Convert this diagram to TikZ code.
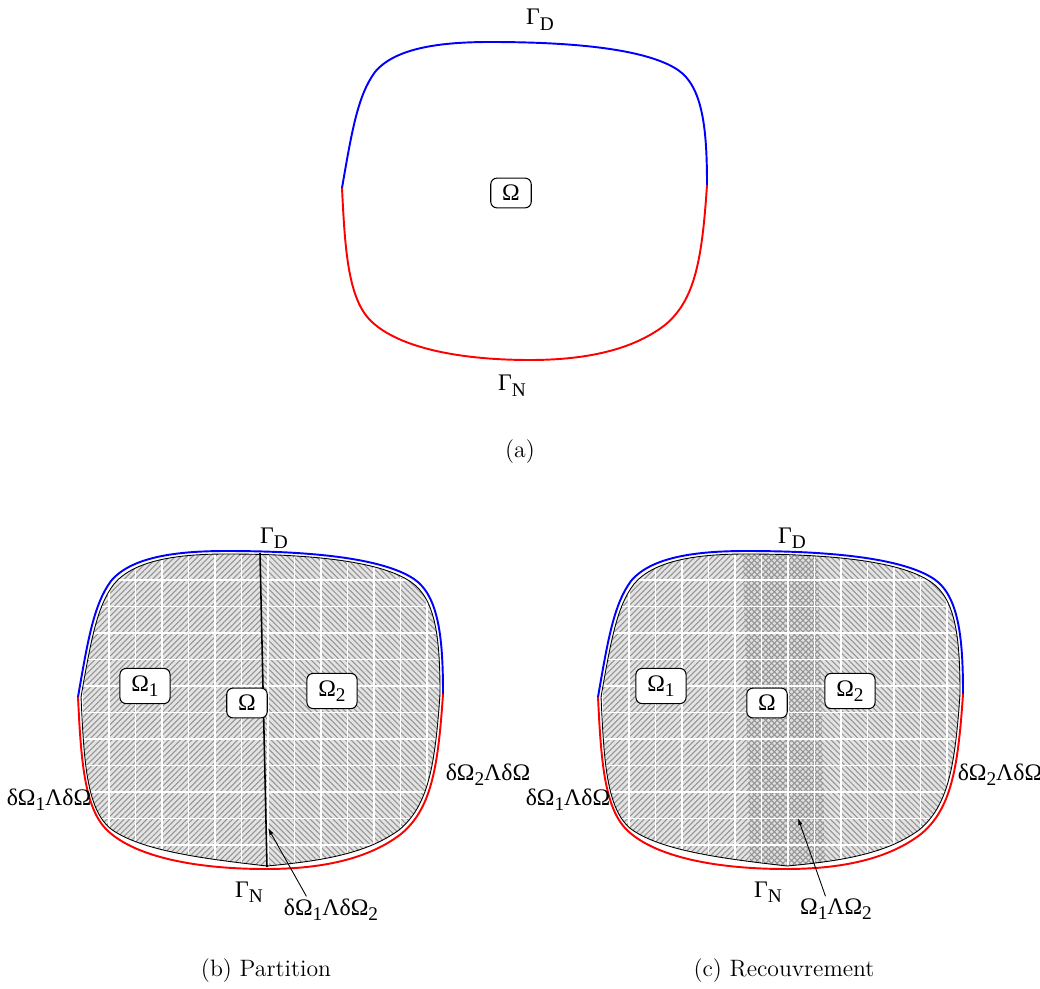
\documentclass[tikz,border=0pt]{standalone}
\usepackage{fontspec}
\newfontfamily\symbfont{Liberation Serif}
\usetikzlibrary{patterns.meta,arrows.meta}

% boundary pieces of the domain (local pixel coordinates)
\newcommand{\outertop}{.. controls (352,130) and (358,95) .. (375,72) .. controls (395,48) and (440,42) .. (490,42) .. controls (580,42) and (648,50) .. (678,70) .. controls (703,87) and (707,130) .. (707,185)}
\newcommand{\outerbot}{.. controls (702,260) and (695,300) .. (665,325) .. controls (630,352) and (580,360) .. (530,360) .. controls (460,360) and (400,348) .. (372,322) .. controls (348,300) and (345,250) .. (342,188)}
\newcommand{\innershape}{(345,188) .. controls (355,131) and (361,97) .. (378,75) .. controls (398,51) and (442,45) .. (490,45) .. controls (580,45) and (646,53) .. (675,73) .. controls (700,90) and (704,130) .. (704,185) .. controls (699,258) and (692,297) .. (663,321) .. controls (630,345) and (585,352) .. (531,357) .. controls (470,350) and (405,342) .. (375,320) .. controls (350,300) and (348,250) .. (345,188) -- cycle}
\newcommand{\lsub}[1]{\raisebox{-0.5ex}{\fontsize{11}{12}\selectfont #1}}

\tikzset{
  bnd/.style={line width=1.1pt},
  lab/.style={font=\symbfont\fontsize{13.5}{15}\selectfont, inner sep=1pt},
  dom/.style={lab, draw, fill=white, rounded corners=3.5pt, inner xsep=6.5pt, inner ysep=4pt, line width=0.6pt},
  capt/.style={font=\fontsize{13.5}{16}\selectfont},
  hatchA/.style={pattern={Lines[angle=45,distance=2.3pt,line width=0.6pt]}, pattern color=gray!85},
  hatchB/.style={pattern={Lines[angle=-45,distance=2.3pt,line width=0.6pt]}, pattern color=gray!85},
  gridln/.style={white, line width=0.6pt},
  arr/.style={-{Latex[length=4pt,width=2.5pt]}, line width=0.5pt},
}

\begin{document}
\begin{tikzpicture}[x=0.02cm, y=-0.02cm]
  \useasboundingbox (0,0) rectangle (1040,989);
  % (a) the whole domain
  \draw[bnd, blue] (342,188) \outertop;
  \draw[bnd, red] (707,185) \outerbot;
  \node[lab, anchor=base] (gDa) at (540,25) {Γ\lsub{D}};
  \node[lab, anchor=base] (gNa) at (512,391) {Γ\lsub{N}};
  \node[dom] (oma) at (511,193) {Ω};
  \node[capt] (capa) at (520,452) {(a)};

  % (b) two subdomains side by side
  \begin{scope}[shift={(-264,509)}]
  \fill[gray!22] \innershape;
  \begin{scope}
    \clip (300,0) -- (523,0) -- (532,400) -- (300,400) -- cycle;
    \fill[hatchA] \innershape;
  \end{scope}
  \begin{scope}
    \clip (523,0) -- (760,0) -- (760,400) -- (532,400) -- cycle;
    \fill[hatchB] \innershape;
  \end{scope}
  \begin{scope}
    \clip \innershape;
    \foreach \g in {0,...,16} {
      \draw[gridln] (320+\g*26.5,0) -- ++(0,400);
      \draw[gridln] (300,18+\g*26.5) -- ++(460,0);
    }
  \end{scope}
  \draw[line width=0.5pt] \innershape;
  \draw[line width=0.9pt] (524,44) -- (531,358);
  \draw[bnd, blue] (342,188) \outertop;
  \draw[bnd, red] (707,185) \outerbot;
  \node[lab, anchor=base] (gDb) at (538,34) {Γ\lsub{D}};
  \node[lab, anchor=base] (gNb) at (513,388) {Γ\lsub{N}};
  \node[dom] (om1b) at (409,177) {Ω\lsub{1}};
  \node[dom] (omb) at (511,194) {Ω};
  \node[dom] (om2b) at (596,182) {Ω\lsub{2}};
  \node[lab, anchor=base] (bd1b) at (313,296) {δΩ\lsub{1}ΛδΩ};
  \node[lab, anchor=base] (bd2b) at (752,271) {δΩ\lsub{2}ΛδΩ};
  \node[lab, anchor=base] (cutb) at (595,406) {δΩ\lsub{1}ΛδΩ\lsub{2}};
  \coordinate (cutptb) at (532,319);
  \draw[arr] ([xshift=-14pt]cutb.north) -- (cutptb);
  \node[capt] (capb) at (530,462) {(b) Partition};
  \end{scope}

  % (c) two overlapping subdomains
  \begin{scope}[shift={(256,509)}]
  \fill[gray!22] \innershape;
  \begin{scope}
    \clip (486,0) -- (561,0) -- (570,400) -- (495,400) -- cycle;
    \fill[gray!25] \innershape;
  \end{scope}
  \begin{scope}
    \clip (300,0) -- (561,0) -- (570,400) -- (300,400) -- cycle;
    \fill[hatchA] \innershape;
  \end{scope}
  \begin{scope}
    \clip (486,0) -- (760,0) -- (760,400) -- (495,400) -- cycle;
    \fill[hatchB] \innershape;
  \end{scope}
  \begin{scope}
    \clip \innershape;
    \foreach \g in {0,...,16} {
      \draw[gridln] (320+\g*26.5,0) -- ++(0,400);
      \draw[gridln] (300,18+\g*26.5) -- ++(460,0);
    }
  \end{scope}
  \draw[line width=0.5pt] \innershape;
  \draw[bnd, blue] (342,188) \outertop;
  \draw[bnd, red] (707,185) \outerbot;
  \node[lab, anchor=base] (gDc) at (536,34) {Γ\lsub{D}};
  \node[lab, anchor=base] (gNc) at (512,388) {Γ\lsub{N}};
  \node[dom] (om1c) at (405,177) {Ω\lsub{1}};
  \node[dom] (omc) at (511,194) {Ω};
  \node[dom] (om2c) at (594,182) {Ω\lsub{2}};
  \node[lab, anchor=base] (bd1c) at (312,296) {δΩ\lsub{1}ΛδΩ};
  \node[lab, anchor=base] (bd2c) at (744,271) {δΩ\lsub{2}ΛδΩ};
  \node[lab, anchor=base] (ovc) at (580,405) {Ω\lsub{1}ΛΩ\lsub{2}};
  \coordinate (ovptc) at (542,309);
  \draw[arr] ([xshift=-6pt]ovc.north) -- (ovptc);
  \node[capt] (capc) at (528,462) {(c) Recouvrement};
  \end{scope}
\end{tikzpicture}
\end{document}
